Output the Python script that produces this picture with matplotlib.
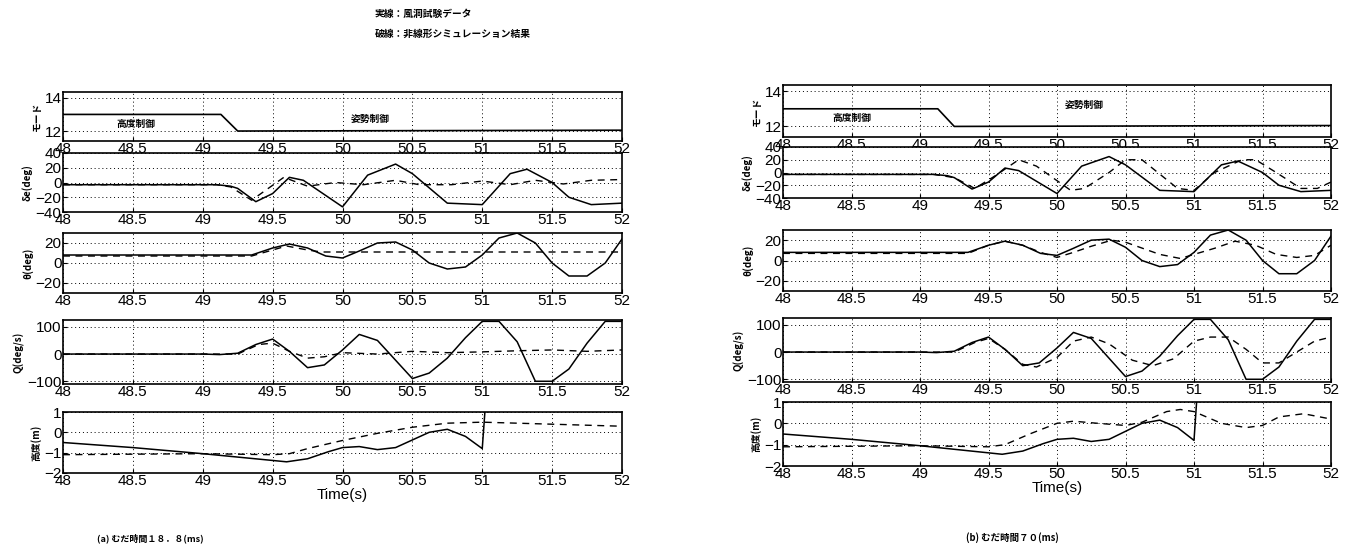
import numpy as np
import matplotlib as mpl
mpl.use('Agg')
import matplotlib.pyplot as plt

plt.rcParams['font.family'] = ['Liberation Sans', 'Noto Sans CJK JP', 'DejaVu Sans']
JP = ['Noto Sans CJK JP', 'DejaVu Sans']

# ---- data ----
mode_t = [48.0, 49.13, 49.25, 52.0]
mode_v = [13.0, 13.0, 12.0, 12.05]

# (a) dead time 18.8 ms
de_t_exp = [48.0, 49.1, 49.2, 49.25, 49.38, 49.5, 49.62, 49.72, 50.0, 50.18, 50.38, 50.5,
            50.75, 51.0, 51.2, 51.32, 51.5, 51.62, 51.78, 52.0]
de_v_exp = [-3, -3, -5, -8, -26, -15, 7, 3, -33, 10, 25, 12, -28, -30, 12, 18, 0, -20, -30, -28]
de_t_sim_a = [48.0, 49.1, 49.2, 49.35, 49.58, 49.75, 49.95, 50.15, 50.38, 50.55, 50.78,
              51.0, 51.2, 51.38, 51.58, 51.78, 52.0]
de_v_sim_a = [-3, -3, -6, -24, 7, -5, 0, -3, 3, -3, -3, 2, -3, 3, -2, 3, 4]

th_t_exp = [48.0, 49.35, 49.5, 49.62, 49.75, 49.88, 50.0, 50.12, 50.25, 50.38, 50.5, 50.62,
            50.75, 50.88, 51.0, 51.12, 51.25, 51.38, 51.5, 51.62, 51.75, 51.88, 52.0]
th_v_exp = [8, 8, 15, 19, 15, 7, 5, 12, 20, 21, 13, 0, -6, -4, 8, 25, 30, 20, 0, -13, -13, 0, 24]
th_t_sim_a = [48.0, 49.35, 49.5, 49.6, 49.75, 49.85, 50.0, 52.0]
th_v_sim_a = [7, 7, 13, 17, 13, 11, 11, 11]

q_t_exp = [48.0, 49.0, 49.12, 49.25, 49.38, 49.5, 49.62, 49.75, 49.87, 50.0, 50.12, 50.25,
           50.5, 50.62, 50.75, 50.88, 51.0, 51.12, 51.25, 51.38, 51.5, 51.62, 51.75, 51.88, 52.0]
q_v_exp = [0, 0, -2, 3, 35, 55, 10, -50, -40, 15, 72, 50, -90, -70, -15, 60, 120, 120, 45,
           -100, -100, -55, 40, 120, 120]
q_t_sim_a = [48.0, 49.25, 49.4, 49.5, 49.62, 49.75, 49.87, 50.0, 50.25, 50.5, 50.75, 51.0,
             51.25, 51.5, 51.75, 52.0]
q_v_sim_a = [0, 0, 35, 40, 10, -15, -10, 5, 0, 10, 5, 8, 12, 15, 10, 15]

h_t_exp = [48.0, 48.5, 49.0, 49.6, 49.75, 49.9, 50.0, 50.12, 50.25, 50.38, 50.62, 50.75,
           50.88, 51.0, 51.02]
h_v_exp = [-0.5, -0.75, -1.05, -1.45, -1.3, -0.95, -0.75, -0.7, -0.85, -0.75, 0.0, 0.15,
           -0.2, -0.8, 1.1]
h_t_sim_a = [48.0, 49.0, 49.5, 49.62, 49.75, 50.0, 50.25, 50.5, 50.75, 51.0, 51.5, 52.0]
h_v_sim_a = [-1.1, -1.05, -1.1, -1.05, -0.8, -0.4, -0.05, 0.25, 0.45, 0.5, 0.4, 0.3]

# (b) dead time 70 ms
de_t_sim_b = [48.0, 49.1, 49.25, 49.4, 49.55, 49.72, 49.85, 50.1, 50.2, 50.38, 50.5, 50.62,
              50.88, 51.0, 51.15, 51.35, 51.45, 51.6, 51.78, 51.9, 52.0]
de_v_sim_b = [-3, -3, -8, -25, -5, 20, 10, -28, -25, 0, 20, 20, -25, -28, 0, 20, 20, 0, -25,
              -25, -15]
th_t_sim_b = [48.0, 49.35, 49.5, 49.62, 49.75, 49.88, 50.0, 50.12, 50.25, 50.4, 50.5, 50.75,
              50.9, 51.0, 51.15, 51.3, 51.45, 51.6, 51.75, 51.88, 52.0]
th_v_sim_b = [7, 7, 15, 19, 15, 8, 3, 8, 14, 20, 18, 6, 2, 6, 12, 19, 15, 6, 3, 5, 15]
q_t_sim_b = [48.0, 49.25, 49.4, 49.5, 49.62, 49.75, 49.85, 50.0, 50.12, 50.25, 50.38, 50.55,
             50.7, 50.85, 51.0, 51.12, 51.25, 51.38, 51.5, 51.62, 51.75, 51.88, 52.0]
q_v_sim_b = [0, 0, 35, 50, 10, -45, -55, -20, 40, 55, 30, -30, -50, -25, 40, 55, 55, 10, -40,
             -40, 0, 40, 55]
h_t_sim_b = [48.0, 49.0, 49.5, 49.62, 49.8, 50.0, 50.12, 50.3, 50.5, 50.62, 50.8, 50.9, 51.0,
             51.2, 51.38, 51.5, 51.62, 51.8, 52.0]
h_v_sim_b = [-1.1, -1.05, -1.1, -1.0, -0.5, 0.0, 0.1, 0.0, -0.1, 0.05, 0.55, 0.65, 0.55, 0.0,
             -0.2, -0.1, 0.3, 0.45, 0.2]

ylabels = ['モード', 'δe(deg)', 'θ(deg)', 'Q(deg/s)', '高度(m)']
ylims = [(11.4, 14.35), (-40, 40), (-30, 30), (-110, 125), (-2, 1)]
yticks = [[12, 14], [-40, -20, 0, 20, 40], [-20, 0, 20], [-100, 0, 100], [-2, -1, 0, 1]]
xticks = np.arange(48, 52.01, 0.5)
xticklabels = ['48', '48.5', '49', '49.5', '50', '50.5', '51', '51.5', '52']

W, H = 1351, 551
fig = plt.figure(figsize=(W / 100, H / 100), dpi=100)

# panel boxes in pixels: (left, right, [(top, bottom), ...])
cols = [
    (63, 622, [(92, 141), (153, 212), (233, 293), (320, 384), (412, 473)]),
    (783, 1331, [(85, 137), (147, 198), (230, 291), (318, 382), (402, 466)]),
]
# mode labels position (t, level) per column
mode_txt = [((48.52, 12.4), (50.2, 12.75)), ((48.5, 12.5), (50.2, 13.2))]

sims = [
    [(de_t_sim_a, de_v_sim_a), (th_t_sim_a, th_v_sim_a), (q_t_sim_a, q_v_sim_a), (h_t_sim_a, h_v_sim_a)],
    [(de_t_sim_b, de_v_sim_b), (th_t_sim_b, th_v_sim_b), (q_t_sim_b, q_v_sim_b), (h_t_sim_b, h_v_sim_b)],
]
exps = [(de_t_exp, de_v_exp), (th_t_exp, th_v_exp), (q_t_exp, q_v_exp), (h_t_exp, h_v_exp)]

for c, (x0, x1, rows) in enumerate(cols):
    for r, (top, bot) in enumerate(rows):
        ax = fig.add_axes([x0 / W, 1 - bot / H, (x1 - x0) / W, (bot - top) / H])
        if r == 0:
            ax.plot(mode_t, mode_v, color='k', lw=1.2)
            (t1, y1), (t2, y2) = mode_txt[c]
            ax.text(t1, y1, '高度制御', family=JP, fontsize=7, fontweight='bold',
                    ha='center', va='center')
            ax.text(t2, y2, '姿勢制御', family=JP, fontsize=7,
                    fontweight='bold', ha='center', va='center')
        else:
            te, ve = exps[r - 1]
            ts, vs = sims[c][r - 1]
            ax.plot(ts, vs, color='k', lw=1.0, ls=(0, (5, 4)))
            ax.plot(te, ve, color='k', lw=1.1)
        ax.set_xlim(48, 52)
        ax.set_ylim(*ylims[r])
        ax.set_xticks(xticks)
        ax.set_xticklabels(xticklabels)
        ax.set_yticks(yticks[r])
        ax.tick_params(direction='in', length=3, labelsize=11, pad=1, width=0.8)
        ax.grid(True, color='k', ls=(0, (1, 3)), lw=0.7)
        for s in ax.spines.values():
            s.set_linewidth(1.2)
        ax.set_ylabel(ylabels[r], family=JP, fontsize=7, fontweight='bold', labelpad=2)
        if r == 4:
            ax.set_xlabel('Time(s)', fontsize=11, labelpad=0)

fig.text(375 / W, 1 - 14 / H, '実線：風洞試験データ', family=JP, fontsize=7,
         fontweight='bold', ha='left', va='center')
fig.text(375 / W, 1 - 34 / H, '破線：非線形シミュレーション結果', family=JP, fontsize=7,
         fontweight='bold', ha='left', va='center')
fig.text(150 / W, 1 - 538 / H, '(a) むだ時間１８．８(ms)', family=JP, fontsize=6.5,
         fontweight='bold', ha='center', va='center')
fig.text(1012 / W, 1 - 538 / H, '(b) むだ時間７０(ms)', family=JP, fontsize=6.8,
         fontweight='bold', ha='center', va='center')

fig.savefig('out.png', dpi=100)
